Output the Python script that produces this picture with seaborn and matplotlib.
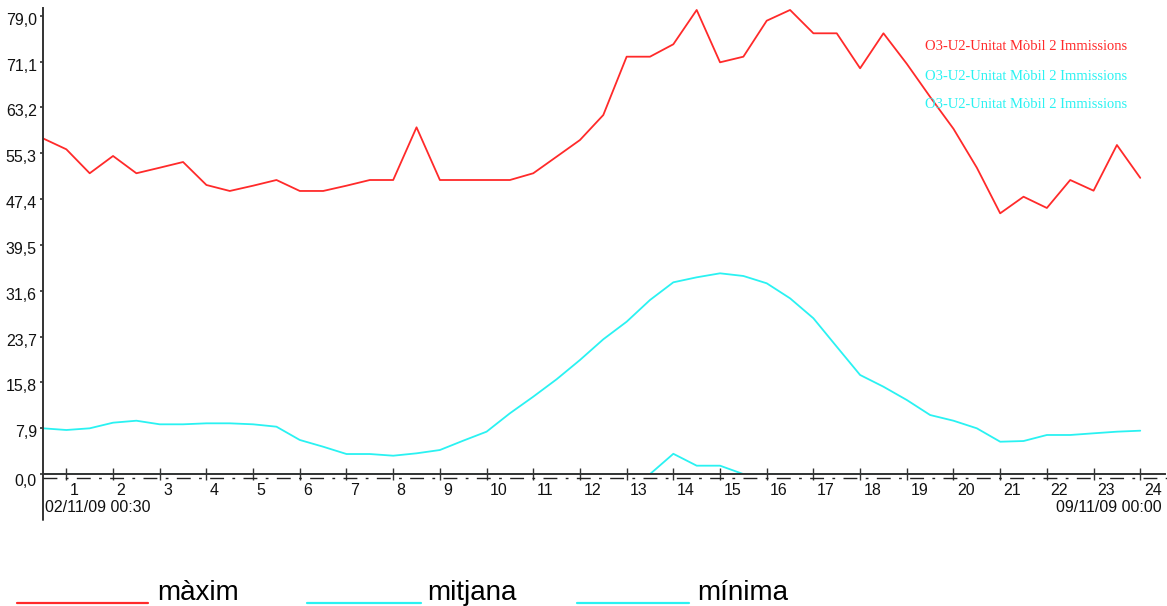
import numpy as np
import matplotlib
matplotlib.use("Agg")
import matplotlib.pyplot as plt
import matplotlib.transforms as mtransforms
from matplotlib.lines import Line2D
from matplotlib import font_manager
import seaborn as sns

# Half-hourly profile, 00:30 .. 24:00
hours = np.arange(1, 49) * 0.5

maxim = [57.85, 55.97, 51.84, 54.82, 51.84, 52.8, 53.78, 49.82, 48.79, 49.7,
         50.68, 48.79, 48.79, 49.7, 50.68, 50.68, 59.76, 50.68, 50.68, 50.68,
         50.68, 51.84, 54.7, 57.57, 61.88, 71.93, 71.93, 74.07, 79.98, 70.96,
         71.93, 78.13, 79.98, 75.96, 75.96, 69.93, 75.96, 70.7, 65.0, 59.5,
         52.8, 44.94, 47.8, 45.86, 50.68, 48.84, 56.71, 51.05]

mitjana = [7.89, 7.60, 7.89, 8.86, 9.20, 8.58, 8.58, 8.75, 8.75, 8.58,
           8.17, 5.88, 4.72, 3.46, 3.46, 3.17, 3.58, 4.15, 5.76, 7.31,
           10.48, 13.34, 16.34, 19.66, 23.23, 26.26, 30.0, 33.05, 33.91, 34.6,
           34.14, 32.88, 30.29, 26.85, 21.95, 17.08, 15.06, 12.77, 10.18, 9.2,
           7.89, 5.58, 5.70, 6.74, 6.74, 7.03, 7.31, 7.48]

minima = [0.0] * 26 + [0.0, 3.5, 1.45, 1.45, 0.0] + [0.0] * 17

ytick_values = [0.0, 7.9, 15.8, 23.7, 31.6, 39.5, 47.4, 55.3, 63.2, 71.1, 79.0]
xtick_values = list(range(1, 25))
series_name = "O3-U2-Unitat Mòbil 2 Immissions"
legend_labels = ["màxim", "mitjana", "mínima"]
start_label = "02/11/09 00:30"
end_label = "09/11/09 00:00"

RED = "#ff2a2a"
CYAN = "#2af2f2"
AXIS = "#333333"

sns.set_style("white")
avail = {f.name for f in font_manager.fontManager.ttflist}
narrow = "Liberation Sans Narrow" if "Liberation Sans Narrow" in avail else "Liberation Sans"
plt.rcParams["font.family"] = [narrow, "DejaVu Sans"]

W, H = 1167, 606
fig = plt.figure(figsize=(W / 100, H / 100), dpi=100)
fig.patch.set_facecolor("white")

y0_px, top_px, left_px, right_px = 474.1, 8.0, 43.0, 1165.0
ax = fig.add_axes([left_px / W, 1 - y0_px / H, (right_px - left_px) / W, (y0_px - top_px) / H])
ax.set_facecolor("white")

df_lw = 1.3
sns.lineplot(x=hours, y=minima, color=CYAN, lw=df_lw, ax=ax, zorder=1)
sns.lineplot(x=hours, y=mitjana, color=CYAN, lw=df_lw, ax=ax, zorder=2)
sns.lineplot(x=hours, y=maxim, color=RED, lw=df_lw, ax=ax, zorder=3)

ax.set_xlim(0.5, 24.53)
ax.set_ylim(0, 80.32)

for side in ("top", "right"):
    ax.spines[side].set_visible(False)
for side in ("left", "bottom"):
    ax.spines[side].set_color(AXIS)
    ax.spines[side].set_linewidth(1.4)
    ax.spines[side].set_zorder(5)

# left axis line continues down past the date labels
ax.add_line(Line2D([0, 0], [0, -46 / (y0_px - top_px)], transform=ax.transAxes,
                   color=AXIS, lw=1.4, clip_on=False))
# dash-dot baseline just under the axis
ax.add_line(Line2D([0, 1.002], [-0.009, -0.009], transform=ax.transAxes,
                   color="#222222", lw=1.0, linestyle=(0, (10, 6, 2, 6)), clip_on=False))

ax.set_yticks(ytick_values)
ax.set_yticklabels([f"{v:.1f}".replace(".", ",") for v in ytick_values])
ax.tick_params(axis="y", direction="out", length=2.5, width=1.2, color=AXIS,
               pad=2, labelsize=11.5, labelcolor="#111111", left=True)
ax.set_xticks(xtick_values)
ax.set_xticklabels([str(v) for v in xtick_values])
ax.tick_params(axis="x", direction="inout", length=9, width=1.0, color=AXIS,
               pad=2, labelsize=11.5, labelcolor="#111111", bottom=True)

down = mtransforms.ScaledTranslation(0, -0.03, fig.dpi_scale_trans)
down_zero = mtransforms.ScaledTranslation(0, -0.06, fig.dpi_scale_trans)
for val, lab in zip(ytick_values, ax.get_yticklabels()):
    lab.set_transform(lab.get_transform() + (down_zero if val == 0 else down))
right_shift = mtransforms.ScaledTranslation(0.035, 0, fig.dpi_scale_trans)
for lab in ax.get_xticklabels():
    lab.set_horizontalalignment("left")
    lab.set_transform(lab.get_transform() + right_shift)
ax.grid(False)

fig.text(45 / W, 1 - 508 / H, start_label, ha="left", va="center", fontsize=11.5, color="#111111")
fig.text(1162 / W, 1 - 508 / H, end_label, ha="right", va="center", fontsize=11.5, color="#111111")

# series captions in the upper right
for yy, col in zip((47, 76, 104), (RED, CYAN, CYAN)):
    fig.text(925 / W, 1 - yy / H, series_name, ha="left", va="center", color=col,
             fontsize=10.5, family=["Liberation Serif", "DejaVu Serif"])

# key below the chart
key = [(17, 148, 157, RED), (307, 421, 427, CYAN), (577, 689, 697, CYAN)]
for (x0, x1, xt, col), lab in zip(key, legend_labels):
    yl = 1 - 602.5 / H
    fig.add_artist(Line2D([x0 / W, x1 / W], [yl, yl], color=col, lw=1.6))
    fig.text(xt / W, 1 - 600 / H, lab, ha="left", va="baseline", fontsize=20,
             color="black", family=["Liberation Sans", "DejaVu Sans"])

fig.savefig("out.png", dpi=100, facecolor="white")
